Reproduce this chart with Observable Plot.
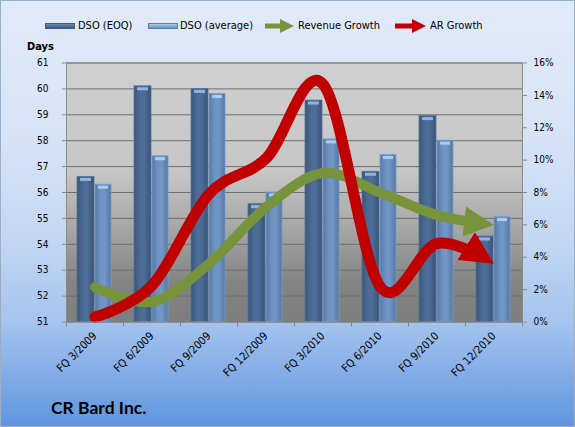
<!DOCTYPE html>
<html><head><meta charset="utf-8">
<script src="https://cdn.jsdelivr.net/npm/d3@7"></script>
<script src="https://cdn.jsdelivr.net/npm/@observablehq/plot@0.6"></script>
<style>
body{margin:0;background:#fff;}
#chart{position:relative;width:575px;height:427px;overflow:hidden;
 background:linear-gradient(to bottom,#e1eaf9 0%,#d8e4f7 30%,#c4d8f3 55%,#a6c4ee 75%,#82ace7 88%,#5e95df 100%);
 font-family:"DejaVu Sans Condensed","DejaVu Sans",sans-serif;font-stretch:condensed;color:#000;}
#border{position:absolute;left:0;top:0;width:575px;height:427px;border:1px solid #9aaec8;box-sizing:border-box;pointer-events:none}
.lg{position:absolute;top:20px;font-size:11px;line-height:12px;white-space:nowrap}
.sw{position:absolute;top:23px;width:28px;height:4px}
#days{position:absolute;left:27px;top:40px;font-size:11px;font-weight:bold;line-height:13px}
#title{position:absolute;left:51px;top:399px;font-family:Lato,"Open Sans",sans-serif;font-weight:bold;font-size:17.5px;line-height:18px}
#plot{position:absolute;left:0;top:36px}
</style></head>
<body>
<div id="chart">
  <div class="sw" style="left:45px;background:linear-gradient(#6b8bb3,#3f5d84);border:1px solid #3f5a7c"></div>
  <div class="lg" style="left:78px">DSO (EOQ)</div>
  <div class="sw" style="left:148px;background:linear-gradient(#a9c8ec,#6d94c4);border:1px solid #5a7ca6"></div>
  <div class="lg" style="left:180px">DSO (average)</div>
  <svg style="position:absolute;left:264px;top:18px" width="31" height="16"><path d="M1,8H18" stroke="#77933c" stroke-width="5"/><path d="M16,1L30,8L16,15Z" fill="#77933c"/></svg>
  <div class="lg" style="left:298px">Revenue Growth</div>
  <svg style="position:absolute;left:394px;top:18px" width="33" height="16"><path d="M1,8H20" stroke="#c00000" stroke-width="5"/><path d="M18,1L32,8L18,15Z" fill="#c00000"/></svg>
  <div class="lg" style="left:430px">AR Growth</div>
  <div id="days">Days</div>
  <div id="plot"></div>
  <div id="title">CR Bard Inc.</div>
  <div id="border"></div>
</div>
<script>
const quarters = ["FQ 3/2009","FQ 6/2009","FQ 9/2009","FQ 12/2009","FQ 3/2010","FQ 6/2010","FQ 9/2010","FQ 12/2010"];
const dsoEOQ = [56.6, 60.1, 60.0, 55.55, 59.55, 56.8, 58.95, 54.3];
const dsoAvg = [56.3, 57.4, 59.8, 56.0, 58.05, 57.45, 58.0, 55.05];
const revenueGrowth = [2.15, 1.25, 3.6, 7.1, 9.2, 8.0, 6.6, 6.0];
const arGrowth = [0.3, 2.25, 7.9, 10.1, 14.7, 2.2, 4.85, 3.6];
const dayTicks = [51,52,53,54,55,56,57,58,59,60,61];
const pctTicks = [0,2,4,6,8,10,12,14,16];

const yMin = 51, yMax = 61, pctMax = 16;
const pctToDays = p => yMin + p * (yMax - yMin) / pctMax;
const daysToPct = d => Math.round((d - yMin) * pctMax / (yMax - yMin));

const bars = quarters.map((q, i) => ({q, eoq: dsoEOQ[i], avg: dsoAvg[i]}));
const rev = quarters.map((q, i) => ({q, v: pctToDays(revenueGrowth[i])}));
const ar = quarters.map((q, i) => ({q, v: pctToDays(arGrowth[i])}));

function defs() {
  const d = d3.create("svg:defs");
  const bg = d.append("linearGradient").attr("id","plotBg").attr("x1",0).attr("y1",0).attr("x2",0).attr("y2",1);
  [[0,"#cfcfcf"],[0.42,"#c6c6c6"],[0.62,"#a9a9a9"],[0.85,"#838383"],[1,"#7e7e7e"]].forEach(([o,c]) => bg.append("stop").attr("offset",o).attr("stop-color",c));
  const g1 = d.append("linearGradient").attr("id","gDark").attr("x1",0).attr("y1",0).attr("x2",1).attr("y2",0);
  [[0,"#3a5679"],[0.35,"#4b6b95"],[0.6,"#4d6e98"],[1,"#395377"]].forEach(([o,c]) => g1.append("stop").attr("offset",o).attr("stop-color",c));
  const g2 = d.append("linearGradient").attr("id","gLight").attr("x1",0).attr("y1",0).attr("x2",1).attr("y2",0);
  [[0,"#5679a5"],[0.35,"#6d93c3"],[0.6,"#7097c6"],[1,"#5577a3"]].forEach(([o,c]) => g2.append("stop").attr("offset",o).attr("stop-color",c));
  ["#77933c","#c00000"].forEach((c, i) => {
    d.append("marker").attr("id", "arrow" + i).attr("viewBox","0 -1.5 3 3")
      .attr("markerWidth",3).attr("markerHeight",3).attr("refX",3).attr("refY",0)
      .attr("orient","auto").attr("markerUnits","strokeWidth")
      .append("path").attr("d","M0,-1.5L3,0L0,1.5Z").attr("fill", c);
  });
  return d.node();
}

const plot = Plot.plot({
  width: 575, height: 354,
  marginLeft: 66, marginRight: 53, marginTop: 26.5, marginBottom: 68.5,
  style: {background: "transparent", fontFamily: '"DejaVu Sans Condensed","DejaVu Sans",sans-serif', fontSize: "10px", color: "#000", overflow: "visible"},
  x: {type: "band", domain: quarters, padding: 0, label: null},
  y: {domain: [yMin, yMax], label: null},
  marks: [
    defs,
    Plot.frame({fill: "url(#plotBg)", stroke: "none"}),
    Plot.ruleY(dayTicks, {stroke: "#6e6e6e", strokeWidth: 1}),
    Plot.barY(bars, {x: "q", y1: yMin, y2: "eoq", fill: "url(#gDark)", stroke: "#56739a", strokeWidth: 0.8, insetLeft: 11, insetRight: 29}),
    Plot.barY(bars, {x: "q", y1: yMin, y2: "avg", fill: "url(#gLight)", stroke: "#7a9cc6", strokeWidth: 0.8, insetLeft: 29, insetRight: 12}),
    Plot.tickY(bars, {x: "q", y: "eoq", dy: 2.5, stroke: "#8fb4de", strokeWidth: 3, insetLeft: 14, insetRight: 32}),
    Plot.tickY(bars, {x: "q", y: "avg", dy: 2.5, stroke: "#a9cdef", strokeWidth: 3, insetLeft: 32, insetRight: 15}),
    Plot.line(rev, {x: "q", y: "v", stroke: "#77933c", strokeWidth: 10, curve: "cardinal", strokeLinecap: "round"}),
    Plot.line(ar, {x: "q", y: "v", stroke: "#c00000", strokeWidth: 11, curve: "cardinal", strokeLinecap: "round"}),
    Plot.frame({stroke: "#8a8a8a", fill: "none"}),
    Plot.ruleX(quarters, {x: d => d, dx: -28.5, y1: yMin, y2: yMin - 0.2, stroke: "#8a8a8a"}),
    Plot.ruleX(quarters.slice(-1), {x: d => d, dx: 28.5, y1: yMin, y2: yMin - 0.2, stroke: "#8a8a8a"}),
    Plot.axisY({anchor: "left", ticks: dayTicks, tickSize: 4, tickPadding: 14, stroke: "#8a8a8a", fontSize: 10, label: null}),
    Plot.axisY({anchor: "right", ticks: pctTicks.map(pctToDays), tickFormat: d => daysToPct(d) + "%", tickSize: 4, tickPadding: 7, stroke: "#8a8a8a", fontSize: 10, label: null}),
    Plot.axisX({tickRotate: -45, tickSize: 0, tickPadding: 12, fontSize: 11, label: null})
  ]
});
document.getElementById("plot").appendChild(plot);

// arrowheads at the end of the growth lines; the visible stroke stops inside the head
const lineGroups = plot.querySelectorAll('g[aria-label="line"]');
const lineWidths = [10, 11];
lineGroups.forEach((g, i) => {
  const path = g.querySelector("path");
  if (!path) return;
  const len = path.getTotalLength();
  path.setAttribute("marker-end", `url(#arrow${i})`);
  if (len > 30) path.setAttribute("stroke-dasharray", `${len - 1.6 * lineWidths[i]} ${len + 100}`);
});
</script>
</body></html>
